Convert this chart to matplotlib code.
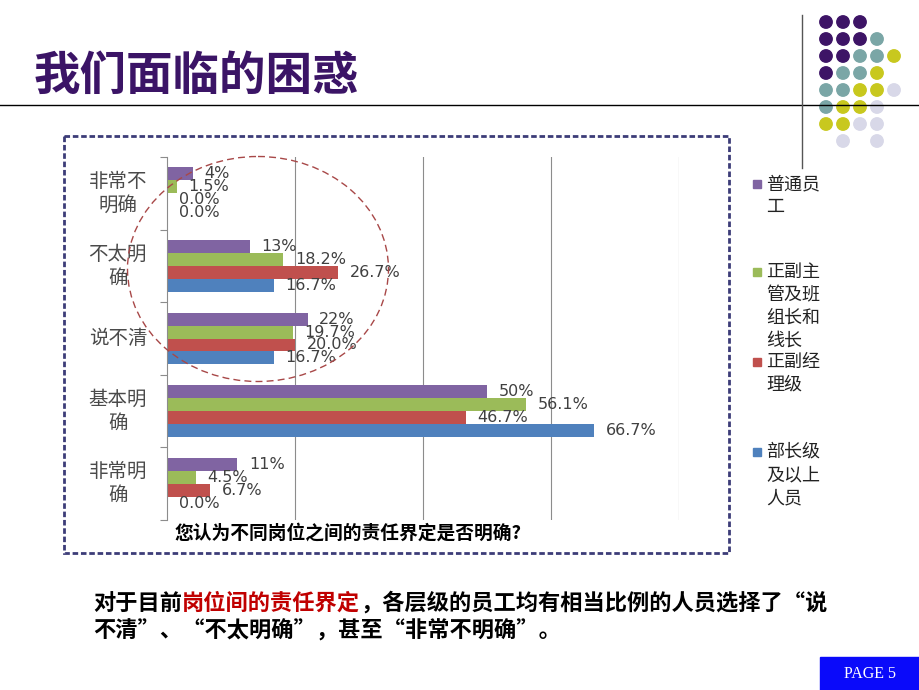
import numpy as np
import matplotlib
matplotlib.use('Agg')
import matplotlib.pyplot as plt
from matplotlib.patches import Ellipse, Rectangle, Circle
from matplotlib.transforms import blended_transform_factory

plt.rcParams['font.family'] = ['Noto Sans CJK SC', 'DejaVu Sans']

# chart data
categories = ['非常不\n明确', '不太明\n确', '说不清', '基本明\n确', '非常明\n确']
series_names = ['普通员\n工', '正副主\n管及班\n组长和\n线长', '正副经\n理级', '部长级\n及以上\n人员']
series_colors = ['#8064a2', '#9bbb59', '#c0504d', '#4f81bd']
staff = [4, 13, 22, 50, 11]
supervisors = [1.5, 18.2, 19.7, 56.1, 4.5]
managers = [0.0, 26.7, 20.0, 46.7, 6.7]
directors = [0.0, 16.7, 16.7, 66.7, 0.0]
staff_labels = ['4%', '13%', '22%', '50%', '11%']
values = [staff, supervisors, managers, directors]

# decoration dots (P purple, T teal, Y yellow, L lavender, . none)
dot_rows = ['PPP', 'PPPT', 'PPTTY', 'PTTY', 'TTYYL', 'TYYL', 'YYLL', '.L.L']
dot_colors = {'P': '#3d1466', 'T': '#7aa6a6', 'Y': '#c8c81e', 'L': '#d8d8e8'}

W, H = 920, 690
fig = plt.figure(figsize=(9.2, 6.9), dpi=100)


def rect(l, t, r, b):
    return [l / W, 1 - b / H, (r - l) / W, (b - t) / H]


# ---- bar chart
ax = fig.add_axes(rect(167, 157, 679, 520))
ax.set_facecolor('none')
bh = 0.178
y = np.arange(len(categories))
for j, vals in enumerate(values):
    pos = y + (j - 1.5) * bh
    ax.barh(pos, vals, height=bh, color=series_colors[j], zorder=2)
    for i, v in enumerate(vals):
        lab = staff_labels[i] if j == 0 else '%.1f%%' % v
        ax.text(v + 1.8, pos[i], lab, va='center', ha='left', fontsize=11.5,
                family='DejaVu Sans', color='#404040', zorder=3)

ax.set_xlim(0, 80)
ax.set_ylim(len(categories) - 0.5, -0.5)
ax.set_xticks([20, 40, 60, 80])
ax.grid(axis='x', color='#8c8c8c', lw=0.8)
ax.tick_params(axis='x', length=0, labelbottom=False)
ax.set_yticks(np.arange(-0.5, len(categories), 1.0))
ax.tick_params(axis='y', length=5, color='#8c8c8c', labelleft=False, direction='out')
for s in ['top', 'right', 'bottom']:
    ax.spines[s].set_visible(False)
ax.spines['left'].set_color('#8c8c8c')
tr = blended_transform_factory(ax.transAxes, ax.transData)
for i, c in enumerate(categories):
    ax.text(-0.096, i, c, transform=tr, ha='center', va='center', fontsize=14,
            color='#4a4a4a', linespacing=1.18, multialignment='center')

# ---- overlay for slide decorations
ov = fig.add_axes([0, 0, 1, 1], zorder=5)
ov.set_xlim(0, W)
ov.set_ylim(H, 0)
ov.axis('off')
ov.patch.set_alpha(0)

# title and rules
ov.text(34, 76, '我们面临的困惑', fontsize=33.5, fontweight='bold', color='#3b1466',
        va='center', ha='left')
ov.plot([0, W], [105, 105], color='black', lw=1)
ov.plot([802, 802], [15, 168], color='#555555', lw=1)
for r, row in enumerate(dot_rows):
    for c, ch in enumerate(row):
        if ch in dot_colors:
            ov.add_patch(Circle((826 + 17 * c, 22 + 17 * r), 6.2,
                                color=dot_colors[ch], zorder=1))

# chart frame
ov.add_patch(Rectangle((64, 136), 665, 417, fill=False, ec='#3c3c78', lw=2,
                       ls=(0, (2, 1))))
ov.text(175, 533, '您认为不同岗位之间的责任界定是否明确?', fontsize=13.5,
        fontweight='bold', color='black', va='center', ha='left')
ov.add_patch(Ellipse((258, 269), 261, 225, fill=False, ec='#a84848', lw=1,
                     ls=(0, (5, 3))))

# legend (one text per wrapped line, 23 px apart)
leg_tops = [184, 272, 362, 452]
for name, col, ty in zip(series_names, series_colors, leg_tops):
    ov.add_patch(Rectangle((753, ty - 4), 8, 8, color=col))
    for k, line in enumerate(name.split('\n')):
        ov.text(766, ty + 23 * k, line, fontsize=13, color='#222222',
                va='center', ha='left')

# note under chart
renderer = fig.canvas.get_renderer()
pieces = [('对于目前', 'black'), ('岗位间的责任界定', '#c00000'),
          ('，各层级的员工均有相当比例的人员选择了“说', 'black')]
x0 = 93
for txt, col in pieces:
    t = ov.text(x0, 603, txt, fontsize=16, fontweight='bold', color=col,
                va='center', ha='left')
    bb = t.get_window_extent(renderer)
    x0 += bb.width
ov.text(93, 631, '不清”、“不太明确”，甚至“非常不明确”。', fontsize=16,
        fontweight='bold', color='black', va='center', ha='left')

# page tag
ov.add_patch(Rectangle((820, 657), 100, 33, color='#0a0afa'))
ov.text(870, 674, 'PAGE 5', fontsize=11.5, color='white', family='Liberation Serif',
        ha='center', va='center')

fig.savefig('out.png', dpi=100)
